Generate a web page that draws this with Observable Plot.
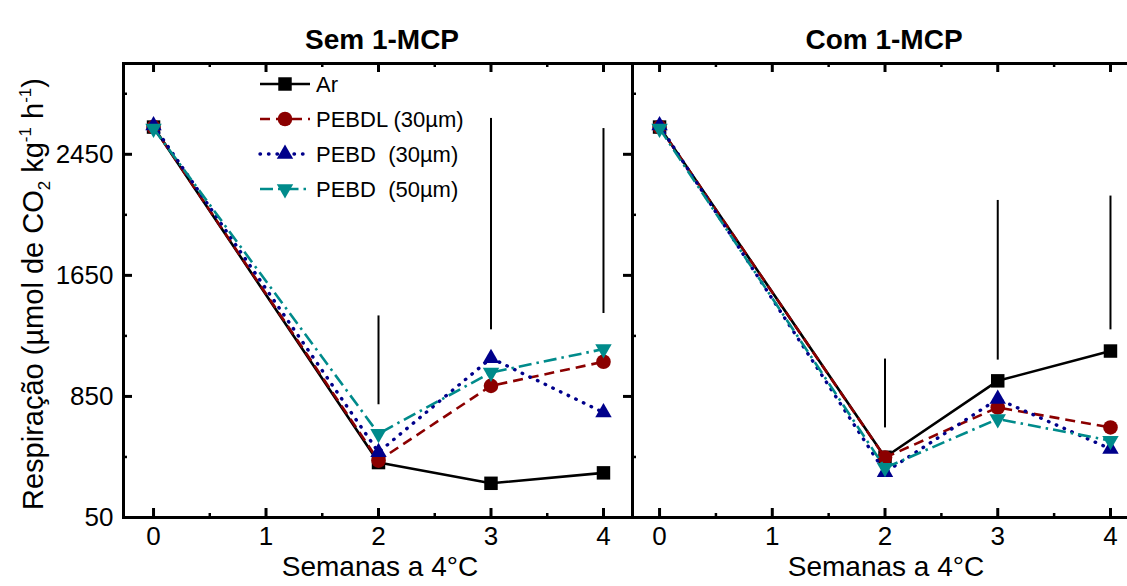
<!DOCTYPE html>
<html><head><meta charset="utf-8">
<script src="https://cdn.jsdelivr.net/npm/d3@7"></script>
<script src="https://cdn.jsdelivr.net/npm/@observablehq/plot@0.6"></script>
<style>
html,body{margin:0;padding:0;background:#fff;}
#chart{position:relative;width:1127px;height:586px;overflow:hidden;background:#fff;}
#chart svg{position:absolute;top:0;}
</style></head><body><div id="chart"></div>
<script>
// ---------- data ----------
const weeks = [0, 2, 3, 4];
const seriesNames = ["Ar", "PEBDL (30\u00b5m)", "PEBD  (30\u00b5m)", "PEBD  (50\u00b5m)"];
const panelTitles = ["Sem 1-MCP", "Com 1-MCP"];
const xLabel = "Semanas a 4\u00b0C";

// Sem 1-MCP
const semAr     = [2630, 413, 276, 345];
const semPEBDL  = [2630, 426, 920, 1079];
const semPEBD30 = [2640, 481, 1103, 744];
const semPEBD50 = [2620, 604, 1008, 1163];
// Com 1-MCP
const comAr     = [2630, 448, 953, 1150];
const comPEBDL  = [2630, 446, 777, 645];
const comPEBD30 = [2640, 349, 833, 503];
const comPEBD50 = [2620, 378, 701, 558];

// vertical (LSD) bars
const barWeeks   = [2, 3, 4];
const semBarLow  = [795, 1290, 1398];
const semBarHigh = [1382, 2687, 2620];
const comBarLow  = [642, 1090, 1290];
const comBarHigh = [1097, 2145, 2174];

const xTicks = [0, 1, 2, 3, 4];
const xMinor = [0.5, 1.5, 2.5, 3.5];
const yTicks = [50, 850, 1650, 2450];
const yMinor = [450, 1250, 2050, 2850];
const yDomain = [50, 3050];

// ---------- styles ----------
const FONT = '"Liberation Sans", Arial, Helvetica, sans-serif';
const triangleDown = {
  draw(context, size) {
    const y = Math.sqrt(size / (3 * Math.sqrt(3)));
    context.moveTo(0, 2 * y);
    context.lineTo(-Math.sqrt(3) * y, -y);
    context.lineTo(Math.sqrt(3) * y, -y);
    context.closePath();
  }
};
const series = [
  {color: "#000000", dash: null, cap: "butt", width: 2.6, symbol: d3.symbolSquare, r: 7.6},
  {color: "#8b0000", dash: "10,6", cap: "butt", width: 2.6, symbol: d3.symbolCircle, r: 7.3},
  {color: "#00008b", dash: "0.5,8", cap: "round", width: 3.4, symbol: d3.symbolTriangle, r: 6.1},
  {color: "#008b8b", dash: "13,5,2.5,5", cap: "butt", width: 2.6, symbol: triangleDown, r: 6.1}
];

const H = 586, MT = 63, MB = 69;
const plotH = H - MT - MB;

function rows(vals) { return weeks.map((w, i) => ({week: w, value: vals[i]})); }

function panel(cfg) {
  const plotW = cfg.width - cfg.marginLeft - cfg.marginRight;
  const bars = barWeeks.map((w, i) => ({week: w, lo: cfg.lo[i], hi: cfg.hi[i]}));
  const marks = [];
  marks.push(Plot.ruleX(bars, {x: "week", y1: "lo", y2: "hi", stroke: "black", strokeWidth: 2}));
  cfg.values.forEach((vals, k) => {
    const s = series[k];
    const data = rows(vals);
    marks.push(Plot.line(data, {x: "week", y: "value", stroke: s.color, strokeWidth: s.width,
      strokeDasharray: s.dash, strokeLinecap: s.cap}));
    marks.push(Plot.dot(data, {x: "week", y: "value", symbol: s.symbol, r: s.r, fill: s.color, stroke: "none"}));
  });
  // frame
  const sides = cfg.left ? ["top", "bottom", "left", "right"] : ["top", "bottom", "left"];
  sides.forEach(a => marks.push(Plot.frame({anchor: a, stroke: "black", strokeWidth: 3})));
  // x ticks (inward, top & bottom)
  marks.push(Plot.tickX(xTicks, {x: d => d, insetTop: plotH - 9, stroke: "black", strokeWidth: 3}));
  marks.push(Plot.tickX(xTicks, {x: d => d, insetBottom: plotH - 9, stroke: "black", strokeWidth: 3}));
  marks.push(Plot.tickX(xMinor, {x: d => d, insetTop: plotH - 4, stroke: "black", strokeWidth: 2.5}));
  marks.push(Plot.tickX(xMinor, {x: d => d, insetBottom: plotH - 4, stroke: "black", strokeWidth: 2.5}));
  if (cfg.left) {
    marks.push(Plot.tickY(yTicks, {y: d => d, insetRight: plotW - 9, stroke: "black", strokeWidth: 3}));
    marks.push(Plot.tickY(yMinor, {y: d => d, insetRight: plotW - 4, stroke: "black", strokeWidth: 2.5}));
    marks.push(Plot.tickY(yTicks, {y: d => d, insetLeft: plotW - 9, stroke: "black", strokeWidth: 3}));
    marks.push(Plot.axisY({ticks: yTicks, tickSize: 0, tickPadding: 10, fontSize: 26, label: null,
      tickFormat: d => String(d)}));
  } else {
    marks.push(Plot.tickY(yMinor, {y: d => d, insetRight: plotW - 4, stroke: "black", strokeWidth: 2.5}));
  }
  marks.push(Plot.axisX({ticks: xTicks, tickSize: 0, tickPadding: 9, fontSize: 26, label: null,
    tickFormat: d => String(d)}));
  marks.push(Plot.text([cfg.title], {text: d => d, frameAnchor: "top", dy: -34, dx: 4,
    fontSize: 28, fontWeight: "bold"}));
  marks.push(Plot.text([xLabel], {text: d => d, frameAnchor: "bottom", dy: 58, dx: cfg.xlabDx,
    fontSize: 28}));
  return Plot.plot({
    width: cfg.width, height: H,
    marginTop: MT, marginBottom: MB, marginLeft: cfg.marginLeft, marginRight: cfg.marginRight,
    x: {domain: cfg.xDomain, axis: null},
    y: {domain: yDomain, axis: null},
    style: {fontFamily: FONT, background: "transparent", overflow: "visible", color: "black"},
    marks
  });
}

const chart = document.getElementById("chart");

const leftSvg = panel({
  left: true, width: 634, marginLeft: 123, marginRight: 2,
  xDomain: [-0.267, 4.258], title: panelTitles[0], xlabDx: 2,
  values: [semAr, semPEBDL, semPEBD30, semPEBD50], lo: semBarLow, hi: semBarHigh
});
leftSvg.style.left = "0px";
chart.appendChild(leftSvg);

const rightSvg = panel({
  left: false, width: 497, marginLeft: 2, marginRight: 0,
  xDomain: [-0.24, 4.151], title: panelTitles[1], xlabDx: 6,
  values: [comAr, comPEBDL, comPEBD30, comPEBD50], lo: comBarLow, hi: comBarHigh
});
rightSvg.style.left = "630px";
chart.appendChild(rightSvg);

// ---------- y-axis title with sub/superscripts ----------
const yt = d3.select(leftSvg).append("text")
  .attr("transform", "translate(43,294) rotate(-90)")
  .attr("text-anchor", "middle")
  .attr("font-family", FONT)
  .attr("font-size", 29)
  .attr("fill", "black");
yt.append("tspan").text("Respira\u00e7\u00e3o (\u00b5mol de CO");
yt.append("tspan").attr("font-size", 17).attr("dy", 7).text("2");
yt.append("tspan").attr("dy", -7).text(" kg");
yt.append("tspan").attr("font-size", 17).attr("dy", -12).text("-1");
yt.append("tspan").attr("dy", 12).text(" h");
yt.append("tspan").attr("font-size", 17).attr("dy", -12).text("-1");
yt.append("tspan").attr("dy", 12).text(")");

// ---------- legend ----------
const lg = d3.select(leftSvg).append("g")
  .attr("font-family", FONT).attr("font-size", 22).attr("text-anchor", "start");
series.forEach((s, k) => {
  const y = 84 + k * 35;
  lg.append("line").attr("x1", 260).attr("x2", 310).attr("y1", y).attr("y2", y)
    .attr("stroke", s.color).attr("stroke-width", s.width)
    .attr("stroke-dasharray", s.dash).attr("stroke-linecap", s.cap);
  lg.append("path").attr("transform", `translate(285,${y})`)
    .attr("d", d3.symbol(s.symbol, Math.PI * s.r * s.r)()).attr("fill", s.color);
  lg.append("text").attr("x", 316).attr("y", y).attr("dy", "0.35em")
    .attr("text-anchor", "start").attr("fill", "black")
    .style("white-space", "pre").text(seriesNames[k]);
});
</script></body></html>
